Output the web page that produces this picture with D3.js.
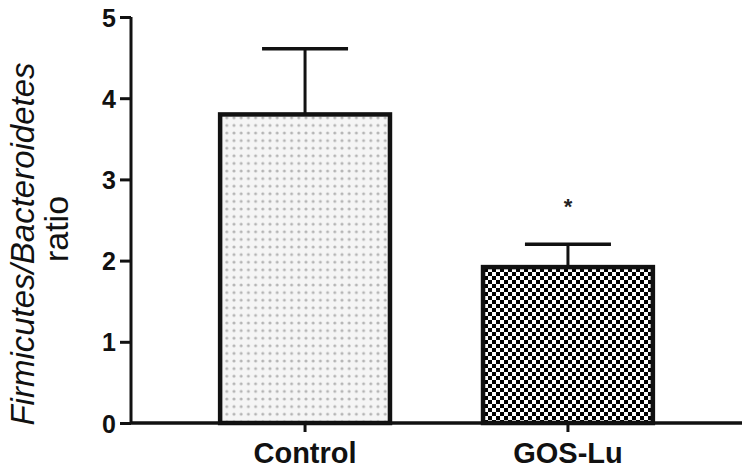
<!DOCTYPE html>
<html>
<head>
<meta charset="utf-8">
<script src="https://cdn.jsdelivr.net/npm/d3@7"></script>
<style>
  body { margin: 0; background: #fff; }
  svg { display: block; }
  text { font-family: "Liberation Sans", Arial, sans-serif; }
</style>
</head>
<body>
<div id="chart"></div>
<script>
// values
var categories = ["Control", "GOS-Lu"];
var means = [3.8, 1.92];
var sems = [0.81, 0.28];
var marks = ["", "*"];
var yTicks = [0, 1, 2, 3, 4, 5];

var width = 749, height = 471;
var x0 = 131, x1 = 742, yBottom = 423, yTop = 17;

var svg = d3.select("#chart").append("svg")
    .attr("width", width)
    .attr("height", height);

// patterns for the two bars
var defs = svg.append("defs");
var dots = defs.append("pattern").attr("id", "dots")
    .attr("patternUnits", "userSpaceOnUse").attr("width", 7.2).attr("height", 7.6);
dots.append("rect").attr("width", 7.2).attr("height", 7.6).attr("fill", "#f5f5f5");
dots.append("circle").attr("cx", 3.6).attr("cy", 3.8).attr("r", 1.5).attr("fill", "#b4b4b4");

var checks = defs.append("pattern").attr("id", "checks")
    .attr("patternUnits", "userSpaceOnUse").attr("width", 8).attr("height", 8);
checks.append("rect").attr("width", 8).attr("height", 8).attr("fill", "#fff");
checks.append("rect").attr("width", 4).attr("height", 4).attr("fill", "#000");
checks.append("rect").attr("x", 4).attr("y", 4).attr("width", 4).attr("height", 4).attr("fill", "#000");

var fills = ["url(#dots)", "url(#checks)"];

var x = d3.scaleBand().domain(categories).range([x0, x1])
    .paddingInner(0.354).paddingOuter(0.339);
var y = d3.scaleLinear().domain([0, 5]).range([yBottom, yTop]);

var data = categories.map(function(c, i){
    return {name: c, mean: means[i], sem: sems[i], mark: marks[i], fill: fills[i]};
});

// bars
svg.selectAll("rect.bar").data(data).enter().append("rect")
    .attr("class", "bar")
    .attr("x", function(d){ return x(d.name); })
    .attr("y", function(d){ return y(d.mean); })
    .attr("width", x.bandwidth())
    .attr("height", function(d){ return y(0) - y(d.mean); })
    .attr("fill", function(d){ return d.fill; })
    .attr("stroke", "#111")
    .attr("stroke-width", 4.5);

// error bars (upper only)
var capHalf = 43;
var err = svg.selectAll("g.err").data(data).enter().append("g").attr("class", "err");
err.append("line")
    .attr("x1", function(d){ return x(d.name) + x.bandwidth() / 2; })
    .attr("x2", function(d){ return x(d.name) + x.bandwidth() / 2; })
    .attr("y1", function(d){ return y(d.mean); })
    .attr("y2", function(d){ return y(d.mean + d.sem); })
    .attr("stroke", "#111").attr("stroke-width", 3);
err.append("line")
    .attr("x1", function(d){ return x(d.name) + x.bandwidth() / 2 - capHalf; })
    .attr("x2", function(d){ return x(d.name) + x.bandwidth() / 2 + capHalf; })
    .attr("y1", function(d){ return y(d.mean + d.sem); })
    .attr("y2", function(d){ return y(d.mean + d.sem); })
    .attr("stroke", "#111").attr("stroke-width", 3.5);

// significance
svg.selectAll("text.mark").data(data).enter().append("text")
    .attr("class", "mark")
    .attr("x", function(d){ return x(d.name) + x.bandwidth() / 2; })
    .attr("y", function(d){ return y(d.mean + d.sem) - 30; })
    .attr("text-anchor", "middle")
    .style("font-size", "22px")
    .style("font-weight", "bold")
    .attr("fill", "#222")
    .text(function(d){ return d.mark; });

// y axis
var yAxis = d3.axisLeft(y).tickValues(yTicks).tickSize(11).tickPadding(4)
    .tickFormat(d3.format("d"));
var yg = svg.append("g").attr("transform", "translate(" + x0 + ",0)").call(yAxis);
yg.select(".domain").attr("stroke", "#111").attr("stroke-width", 3).attr("d", "M0," + yBottom + "V" + yTop);
yg.selectAll(".tick line").attr("stroke", "#111").attr("stroke-width", 3);
yg.selectAll(".tick text").attr("fill", "#111")
    .style("font-size", "25px").style("font-weight", "bold")
    .attr("dy", "0.36em");

// x axis
var xAxis = d3.axisBottom(x).tickSize(9).tickPadding(10);
var xg = svg.append("g").attr("transform", "translate(0," + yBottom + ")").call(xAxis);
xg.select(".domain").attr("stroke", "#111").attr("stroke-width", 3.5).attr("d", "M" + x0 + ",0H" + x1);
xg.selectAll(".tick line").attr("stroke", "#111").attr("stroke-width", 3);
xg.selectAll(".tick text").attr("fill", "#111")
    .style("font-size", "29px").style("font-weight", "bold");

// y title
svg.append("text")
    .attr("transform", "translate(34,244) rotate(-90)")
    .attr("text-anchor", "middle")
    .attr("fill", "#111")
    .style("font-size", "33px")
    .style("font-style", "italic")
    .text("Firmicutes/Bacteroidetes");
svg.append("text")
    .attr("transform", "translate(68,229) rotate(-90)")
    .attr("text-anchor", "middle")
    .attr("fill", "#111")
    .style("font-size", "34px")
    .text("ratio");
</script>
</body>
</html>
